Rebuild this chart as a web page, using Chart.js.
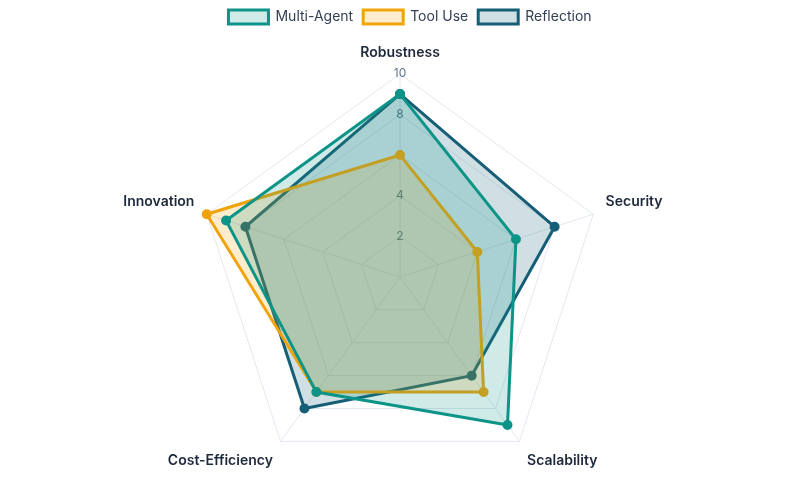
<!DOCTYPE html>
<html>
<head>
<meta charset="utf-8">
<script src="https://cdn.jsdelivr.net/npm/chart.js@4"></script>
<style>
html,body{margin:0;padding:0;background:#fff;}
#wrap{width:800px;height:500px;}
</style>
</head>
<body>
<div id="wrap"><canvas id="c"></canvas></div>
<script>
const categories = ["Robustness", "Security", "Scalability", "Cost-Efficiency", "Innovation"];
const multiAgent = [9, 6, 9, 7, 9];
const toolUse = [6, 4, 7, 7, 10];
const reflection = [9, 8, 6, 8, 8];
const tickValues = [2, 4, 6, 8, 10];

Chart.defaults.font.family = "Inter, 'Noto Sans', sans-serif";
const legendShift = {
  id: 'legendShift',
  afterLayout(chart) {
    if (chart.legend) { chart.legend.left += 20; chart.legend.right += 0; }
  }
};
new Chart(document.getElementById('c'), {
  type: 'radar',
  data: {
    labels: categories,
    datasets: [
      {label: 'Multi-Agent', data: multiAgent, borderColor: '#0d9488', backgroundColor: 'rgba(13,148,136,0.2)', pointBackgroundColor: '#0d9488', pointBorderColor: '#0d9488', borderWidth: 3, pointRadius: 3.5},
      {label: 'Tool Use', data: toolUse, borderColor: '#f0a30a', backgroundColor: 'rgba(245,158,11,0.2)', pointBackgroundColor: '#f0a30a', pointBorderColor: '#f0a30a', borderWidth: 3, pointRadius: 3.5},
      {label: 'Reflection', data: reflection, borderColor: '#155e75', backgroundColor: 'rgba(21,94,117,0.2)', pointBackgroundColor: '#155e75', pointBorderColor: '#155e75', borderWidth: 3, pointRadius: 3.5}
    ]
  },
  options: {
    responsive: true,
    maintainAspectRatio: false,
    animation: false,
    plugins: {
      legend: {position: 'top', labels: {color: '#334155', font: {size: 14}}}
    },
    scales: {
      r: {
        min: 0, max: 10,
        afterBuildTicks: (s) => { s.ticks = [0].concat(tickValues).map(v => ({value: v})); },
        ticks: {stepSize: 2, color: '#64748b', backdropColor: 'rgba(0,0,0,0)', font: {size: 12}},
        grid: {color: '#e2e8f0'},
        angleLines: {color: '#e2e8f0'},
        pointLabels: {color: '#1e293b', font: {size: 14, weight: '600'}}
      }
    }
  },
  plugins: [legendShift]
});
</script>
</body>
</html>
